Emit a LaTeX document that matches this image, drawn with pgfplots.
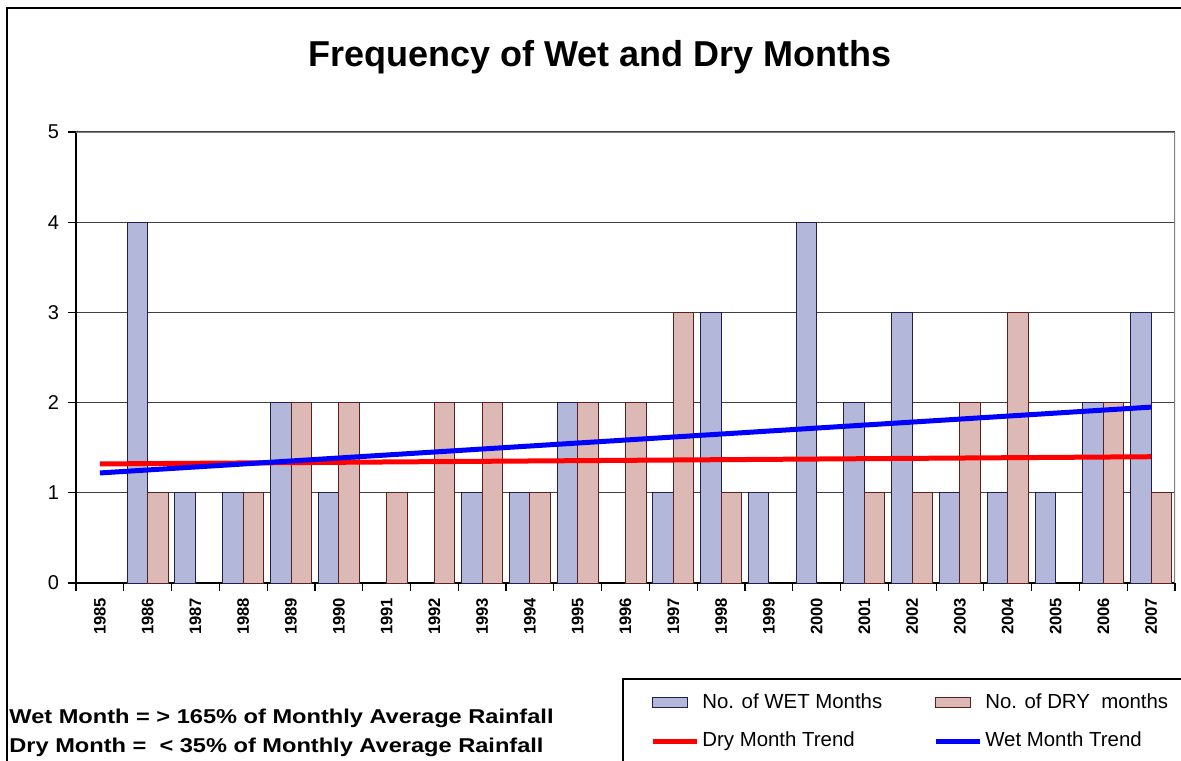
\documentclass[border=0pt]{standalone}
\usepackage{fontspec}
\setmainfont{Liberation Sans}
\newfontfamily\widefont[FakeStretch=1.18]{Liberation Sans}
\usepackage{pgfplots}
\usepackage{pgfplotstable}
\pgfplotsset{compat=1.18}
\definecolor{wetfill}{HTML}{B3B7D9}
\definecolor{dryfill}{HTML}{DDB9B5}
\definecolor{wetedge}{HTML}{1E1E50}
\definecolor{dryedge}{HTML}{5A2020}
\pgfplotstableread{
x wet dry
0 0 0
1 4 1
2 1 0
3 1 1
4 2 2
5 1 2
6 0 1
7 0 2
8 1 2
9 1 1
10 2 2
11 0 2
12 1 3
13 3 1
14 1 0
15 4 0
16 2 1
17 3 1
18 1 2
19 1 3
20 1 0
21 2 2
22 3 1
}\datatable
\begin{document}
\begin{tikzpicture}
\useasboundingbox (0,0) rectangle (590.5pt,380pt);
\fill[white] (0,0) rectangle (590.5pt,380pt);
\draw[line width=1pt] (3.5pt,-5pt) -- (3.5pt,376pt) -- (600pt,376pt);
\node[anchor=base, font=\bfseries\fontsize{18}{20}\selectfont] at (300pt,346.5pt) {Frequency of Wet and Dry Months};
\begin{axis}[
  at={(38pt,88.5pt)}, anchor=south west,
  scale only axis, width=549.5pt, height=225.5pt,
  xmin=-0.5, xmax=22.5, ymin=0, ymax=5,
  axis lines*=left,
  axis line style={black, line width=0.6pt},
  ytick={0,...,5}, ymajorgrids,
  grid style={black!75, line width=0.6pt},
  xtick={0,...,22},
  xticklabels={1985,1986,1987,1988,1989,1990,1991,1992,1993,1994,1995,1996,1997,1998,1999,2000,2001,2002,2003,2004,2005,2006,2007},
  major x tick style={draw=none},
  minor xtick={-0.5,0.5,...,22.5},
  tick align=outside, major tick length=4pt, minor tick length=4pt,
  tick style={black, line width=0.6pt},
  xticklabel style={rotate=90, anchor=east, font=\bfseries\fontsize{8.3}{9}\selectfont},
  yticklabel style={font=\fontsize{10}{11}\selectfont, xshift=-1pt},
  /pgf/number format/assume math mode=true,
  unbounded coords=discard,
  legend columns=2,
  legend cell align=left,
  legend style={at={(0.5223,-0.235)}, anchor=north west, draw=none, fill=none,
    inner sep=0pt, row sep=6.5pt,
    nodes={inner xsep=1.5pt},
    font=\fontsize{10.2}{12}\selectfont,
    /tikz/every even column/.append style={column sep=24pt}},
]
\addplot[ybar, bar width=10.25pt, bar shift=-5.125pt, fill=wetfill, draw=wetedge, line width=0.5pt,
  restrict y to domain=0.5:10,
  legend image code/.code={\draw[fill=wetfill, draw=wetedge, line width=0.5pt] (0pt,-2.5pt) rectangle (17.5pt,2.5pt);}]
  table[x=x, y=wet] {\datatable};
\addlegendentry{No. of WET Months}
\addplot[ybar, bar width=10.25pt, bar shift=5.125pt, fill=dryfill, draw=dryedge, line width=0.5pt,
  restrict y to domain=0.5:10,
  legend image code/.code={\draw[fill=dryfill, draw=dryedge, line width=0.5pt] (0pt,-2.5pt) rectangle (17.5pt,2.5pt);}]
  table[x=x, y=dry] {\datatable};
\addlegendentry{No. of DRY\ \ months}
\addplot[red, line width=2.5pt, legend image code/.code={\draw[red, line width=2.5pt] (0pt,0pt) -- (22pt,0pt);}]
  coordinates {(0,1.32) (22,1.40)};
\addlegendentry{Dry Month Trend}
\addplot[blue, line width=2.5pt, legend image code/.code={\draw[blue, line width=2.5pt] (0pt,0pt) -- (22pt,0pt);}]
  coordinates {(0,1.22) (22,1.95)};
\addlegendentry{Wet Month Trend}
\draw[gray, line width=0.6pt] (rel axis cs:0,1) -- (rel axis cs:1,1) -- (rel axis cs:1,0);
\end{axis}
\draw[line width=0.6pt] (311.5pt,-20pt) -- (311.5pt,40.5pt) -- (620pt,40.5pt);
\node[anchor=base west, inner sep=0pt, font=\widefont\bfseries\fontsize{10}{11}\selectfont] at (4.5pt,18.5pt) {Wet Month = > 165\% of Monthly Average Rainfall};
\node[anchor=base west, inner sep=0pt, font=\widefont\bfseries\fontsize{10}{11}\selectfont] at (4.5pt,4pt) {Dry Month =\ \ < 35\% of Monthly Average Rainfall};
\end{tikzpicture}
\end{document}
